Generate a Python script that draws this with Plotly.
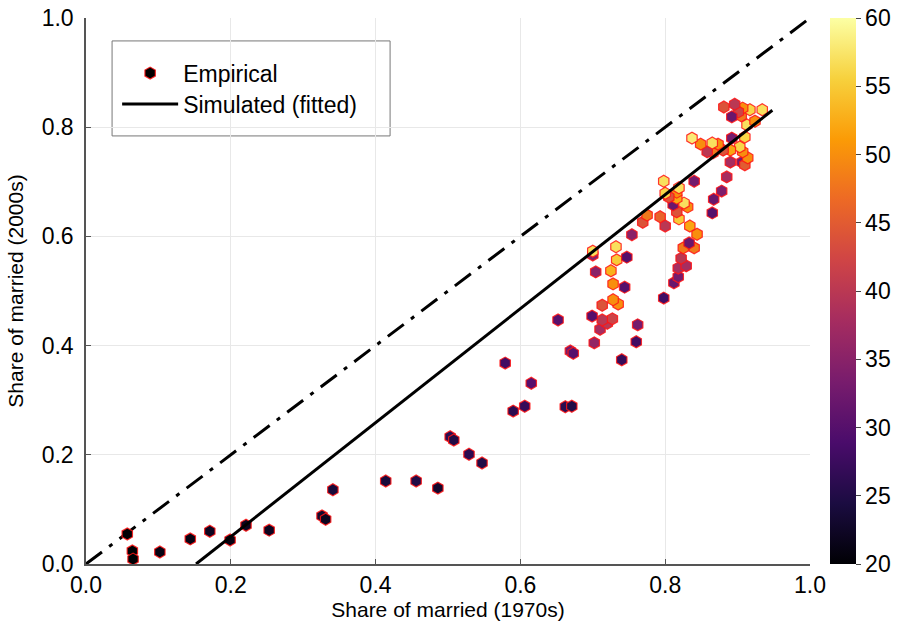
import plotly.graph_objects as go

# empirical shares of married: 1970s vs 2000s, coloured by value
emp_x = [
    0.057, 0.064, 0.065, 0.102, 0.144, 0.171, 0.199, 0.221, 0.253, 0.326,
    0.331, 0.341, 0.414, 0.456, 0.486, 0.503, 0.508, 0.529, 0.547, 0.579,
    0.590, 0.606, 0.615, 0.652, 0.662, 0.671, 0.669, 0.673, 0.740, 0.702,
    0.760, 0.762, 0.710, 0.720, 0.727, 0.713, 0.699, 0.713, 0.735, 0.728,
    0.744, 0.728, 0.725, 0.704, 0.733, 0.747, 0.754, 0.732, 0.700, 0.700,
    0.798, 0.812, 0.818, 0.818, 0.829, 0.822, 0.840, 0.825, 0.833, 0.844,
    0.834, 0.769, 0.800, 0.793, 0.819, 0.816, 0.811, 0.831, 0.826, 0.816,
    0.816, 0.819, 0.805, 0.800, 0.798, 0.840, 0.775, 0.865, 0.867, 0.878,
    0.885, 0.906, 0.890, 0.910, 0.914, 0.907, 0.903, 0.890, 0.880, 0.866,
    0.858, 0.873, 0.865, 0.849, 0.837, 0.892, 0.910, 0.913, 0.924, 0.905,
    0.934, 0.917, 0.907, 0.901, 0.892, 0.896, 0.881,
]
emp_y = [
    0.055, 0.024, 0.009, 0.022, 0.046, 0.060, 0.044, 0.071, 0.062, 0.088,
    0.082, 0.136, 0.152, 0.152, 0.139, 0.233, 0.227, 0.201, 0.185, 0.368,
    0.280, 0.289, 0.331, 0.447, 0.288, 0.289, 0.390, 0.386, 0.374, 0.405,
    0.407, 0.438, 0.430, 0.441, 0.449, 0.447, 0.454, 0.474, 0.476, 0.484,
    0.507, 0.513, 0.537, 0.535, 0.557, 0.562, 0.603, 0.581, 0.566, 0.573,
    0.487, 0.515, 0.526, 0.542, 0.546, 0.560, 0.579, 0.579, 0.588, 0.604,
    0.619, 0.626, 0.619, 0.636, 0.632, 0.645, 0.658, 0.654, 0.661, 0.670,
    0.681, 0.689, 0.672, 0.679, 0.701, 0.701, 0.639, 0.643, 0.668, 0.683,
    0.709, 0.736, 0.736, 0.731, 0.744, 0.755, 0.764, 0.758, 0.758, 0.753,
    0.755, 0.769, 0.771, 0.769, 0.780, 0.780, 0.782, 0.804, 0.811, 0.821,
    0.832, 0.832, 0.835, 0.828, 0.819, 0.842, 0.837,
]
emp_c = [
    20, 20, 20, 21, 21, 22, 21, 22, 22, 23,
    22, 24, 24, 25, 23, 26, 25, 26, 25, 28,
    26, 27, 30, 30, 26, 25, 33, 30, 27, 36,
    28, 33, 38, 40, 42, 40, 30, 44, 50, 50,
    30, 50, 53, 35, 55, 30, 35, 57, 35, 57,
    28, 32, 33, 38, 38, 40, 48, 48, 32, 50,
    52, 44, 40, 46, 55, 44, 32, 50, 57, 52,
    50, 57, 44, 56, 57, 33, 48, 30, 32, 34,
    38, 33, 38, 45, 50, 50, 56, 52, 44, 48,
    40, 50, 57, 50, 58, 33, 56, 57, 50, 48,
    57, 56, 50, 42, 32, 40, 44,
]

# fitted line from the simulation
sim_x = [0.152, 0.948]
sim_y = [0.0, 0.831]

# 45-degree reference
diag_x = [0.0, 1.0]
diag_y = [0.0, 1.0]

font = "Liberation Sans, Arial, sans-serif"
outline = "rgba(255,20,20,0.85)"

fig = go.Figure()

fig.add_trace(go.Scatter(
    x=diag_x, y=diag_y, mode="lines",
    line=dict(color="black", width=3, dash="20px,9px,4px,9px"),
    showlegend=False, hoverinfo="skip",
))

fig.add_trace(go.Scatter(
    x=emp_x, y=emp_y, mode="markers", name="Empirical",
    marker=dict(
        symbol="hexagon", size=12, color=emp_c,
        colorscale="Inferno", cmin=20, cmax=60,
        line=dict(color=outline, width=1.2),
        colorbar=dict(
            thickness=26, len=1.0, x=1.0276, xanchor="left", xpad=0,
            y=0.5, yanchor="middle", ypad=0, outlinewidth=0,
            tickvals=[20, 25, 30, 35, 40, 45, 50, 55, 60],
            ticks="outside", ticklen=5, tickcolor="#444",
            ticklabeloverflow="allow",
            tickfont=dict(family=font, size=23, color="black"),
        ),
    ),
    showlegend=False,
))

# legend entry for the markers
fig.add_trace(go.Scatter(
    x=[None], y=[None], mode="markers", name="Empirical", legend="legend",
    marker=dict(symbol="hexagon", size=12, color="black",
                line=dict(color=outline, width=1.2)),
))

fig.add_trace(go.Scatter(
    x=sim_x, y=sim_y, mode="lines", name="Simulated (fitted)", legend="legend2",
    line=dict(color="black", width=3),
))

axis_common = dict(
    range=[0, 1], dtick=0.2, tickformat=".1f",
    showgrid=True, gridcolor="#e8e8e8", gridwidth=1,
    zeroline=False, showline=True, linecolor="#555", linewidth=1.5,
    ticks="inside", ticklen=5, tickcolor="#555",
    tickfont=dict(family=font, size=23, color="black"),
    mirror=False, automargin=False, ticklabeloverflow="allow",
)

fig.update_xaxes(**axis_common, title=dict(text="Share of married (1970s)", standoff=0,
                                          font=dict(family=font, size=21, color="black")))
fig.update_yaxes(**axis_common, ticklabelstandoff=6,
                 title=dict(text="Share of married (2000s)", standoff=12,
                            font=dict(family=font, size=21, color="black")))

# legend frame drawn as a box so it can have the roomier padding
fig.add_shape(
    type="rect", xref="paper", yref="paper",
    x0=0.036, x1=0.420, y0=0.784, y1=0.958,
    line=dict(color="#777", width=1), fillcolor="white", layer="below",
)

leg_common = dict(
    xanchor="left", yanchor="middle", borderwidth=0, bgcolor="rgba(0,0,0,0)",
    font=dict(family=font, size=23, color="black"), itemwidth=56,
)

fig.update_layout(
    width=899, height=621,
    margin=dict(l=86, r=89, t=18, b=57, autoexpand=False),
    paper_bgcolor="white", plot_bgcolor="white",
    font=dict(family=font, size=20, color="black"),
    legend=dict(x=0.043, y=0.899, **leg_common),
    legend2=dict(x=0.043, y=0.8425, **leg_common),
)

# the page body has a default 8px margin; drop it so the figure fills the window
fig.write_html("out.html", config={"displayModeBar": False},
               post_script="document.body.style.margin='0';")
